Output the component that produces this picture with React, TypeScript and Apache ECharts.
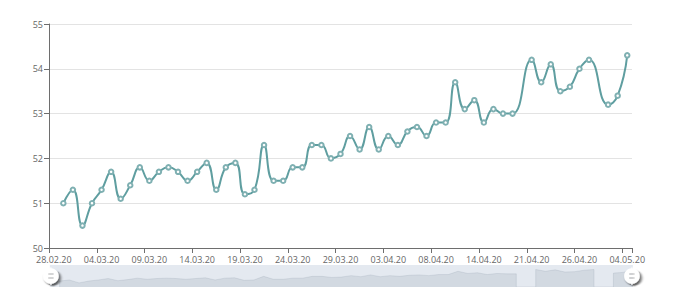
import React, { useEffect, useRef } from "react";
import * as echarts from "echarts";

const dates: string[] = [
  "28.02.20", "29.02.20", "01.03.20", "02.03.20", "03.03.20", "04.03.20", "05.03.20", "06.03.20", "07.03.20", "08.03.20",
  "09.03.20", "10.03.20", "11.03.20", "12.03.20", "13.03.20", "14.03.20", "15.03.20", "16.03.20", "17.03.20", "18.03.20",
  "19.03.20", "20.03.20", "21.03.20", "22.03.20", "23.03.20", "24.03.20", "25.03.20", "26.03.20", "27.03.20", "28.03.20",
  "29.03.20", "30.03.20", "31.03.20", "01.04.20", "02.04.20", "03.04.20", "04.04.20", "05.04.20", "06.04.20", "07.04.20",
  "08.04.20", "09.04.20", "10.04.20", "11.04.20", "13.04.20", "14.04.20", "15.04.20", "16.04.20", "17.04.20", "20.04.20",
  "21.04.20", "22.04.20", "23.04.20", "24.04.20", "25.04.20", "26.04.20", "27.04.20", "28.04.20", "29.04.20", "30.04.20",
  "04.05.20",
];

const values: (number | null)[] = [
  null, 51.0, 51.3, 50.5, 51.0, 51.3, 51.7, 51.1, 51.4, 51.8,
  51.5, 51.7, 51.8, 51.7, 51.5, 51.7, 51.9, 51.3, 51.8, 51.9,
  51.2, 51.3, 52.3, 51.5, 51.5, 51.8, 51.8, 52.3, 52.3, 52.0,
  52.1, 52.5, 52.2, 52.7, 52.2, 52.5, 52.3, 52.6, 52.7, 52.5,
  52.8, 52.8, 53.7, 53.1, 53.3, 52.8, 53.1, 53.0, 53.0, null,
  54.2, 53.7, 54.1, 53.5, 53.6, 54.0, 54.2, null, 53.2, 53.4,
  54.3,
];

const yMin = 50;
const yMax = 55;
const yStep = 1;

const HANDLE =
  "path://M10.7,11.9v-1.3H9.3v1.3c-4.9,0.3-8.8,4.4-8.8,9.4c0,5,3.9,9.1,8.8,9.4v1.3h1.3v-1.3c4.9-0.3,8.8-4.4,8.8-9.4C19.5,16.3,15.6,12.2,10.7,11.9z M13.3,24.4H6.7V23h6.6V24.4z M13.3,19.6H6.7v-1.4h6.6V19.6z";

export default function App() {
  const ref = useRef<HTMLDivElement>(null);
  useEffect(() => {
    if (!ref.current) return;
    const chart = echarts.init(ref.current, null, { renderer: "svg" });
    const font = "'Open Sans', 'Noto Sans', sans-serif";
    chart.setOption({
      animation: false,
      backgroundColor: "#fff",
      grid: { left: 49, right: 48, top: 24, bottom: 43 },
      xAxis: {
        type: "category",
        data: dates,
        boundaryGap: true,
        axisLine: { show: true, lineStyle: { color: "#6e6e6e", width: 1 } },
        axisTick: { show: true, interval: 4, length: 5, lineStyle: { color: "#6e6e6e" } },
        axisLabel: {
          interval: 4,
          margin: 7,
          color: "#666",
          fontSize: 9,
          lineHeight: 9,
          fontFamily: font,
          hideOverlap: false,
        },
        splitLine: { show: false },
      },
      yAxis: {
        type: "value",
        min: yMin,
        max: yMax,
        interval: yStep,
        axisLine: { show: true, lineStyle: { color: "#6e6e6e", width: 1 } },
        axisTick: { show: true, length: 5, lineStyle: { color: "#6e6e6e" } },
        axisLabel: { margin: 6, color: "#666", fontSize: 9, lineHeight: 9, fontFamily: font },
        splitLine: { show: true, lineStyle: { color: "#e3e3e3", width: 1 } },
      },
      dataZoom: [
        {
          type: "slider",
          start: 0,
          end: 100,
          left: 49,
          right: 48,
          bottom: 4,
          height: 22,
          showDetail: false,
          brushSelect: false,
          moveHandleSize: 0,
          handleIcon: HANDLE,
          handleSize: "80%",
          handleStyle: {
            color: "#fff",
            borderColor: "#ccc",
            borderWidth: 0,
            shadowBlur: 3,
            shadowColor: "rgba(0,0,0,0.6)",
            shadowOffsetX: 2,
            shadowOffsetY: 2,
          },
          borderColor: "transparent",
          backgroundColor: "rgba(0,0,0,0)",
          fillerColor: "rgba(167,183,204,0.3)",
          dataBackground: {
            lineStyle: { color: "rgba(47,69,84,0.25)", width: 0.5 },
            areaStyle: { color: "rgba(47,69,84,0.12)" },
          },
          selectedDataBackground: {
            lineStyle: { color: "rgba(47,69,84,0.25)", width: 0.5 },
            areaStyle: { color: "rgba(47,69,84,0.12)", opacity: 1 },
          },
        },
      ],
      series: [
        {
          type: "line",
          data: values,
          smooth: true,
          connectNulls: true,
          symbol: "emptyCircle",
          symbolSize: 4.5,
          showAllSymbol: true,
          lineStyle: { color: "#5f9ea0", width: 2 },
          itemStyle: { color: "#7fb0b2", borderWidth: 1 },
        },
      ],
    });
    return () => chart.dispose();
  }, []);
  return (
    <div
      ref={ref}
      style={{ position: "fixed", left: 0, top: 0, width: 680, height: 291, background: "#fff" }}
    />
  );
}
